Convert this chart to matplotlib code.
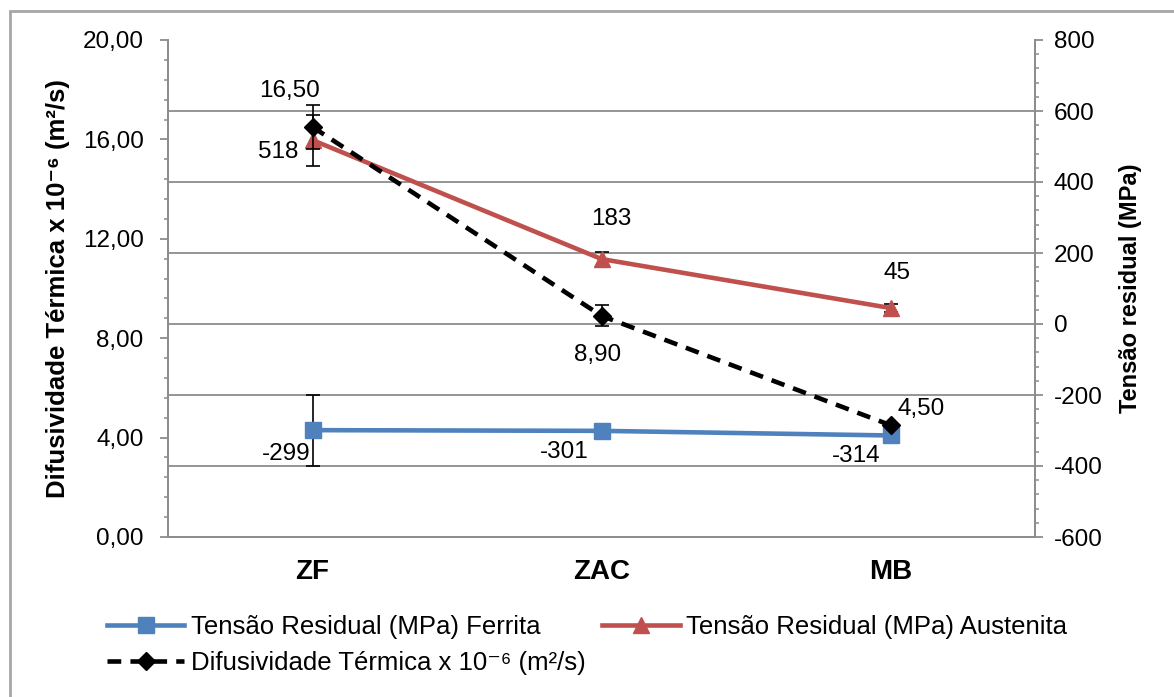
import matplotlib
matplotlib.use('Agg')
import matplotlib.pyplot as plt
from matplotlib.ticker import MultipleLocator, FuncFormatter
from matplotlib.lines import Line2D
from matplotlib.patches import Rectangle

categories = ['ZF', 'ZAC', 'MB']
ferrita = [-299, -301, -314]
ferrita_err = [100, 0, 0]
austenita = [518, 183, 45]
austenita_err = [72, 20, 10]
difusividade = [16.50, 8.90, 4.50]
difusividade_err = [0.9, 0.42, 0.0]

ferrita_labels = ['-299', '-301', '-314']
austenita_labels = ['518', '183', '45']
difusividade_labels = ['16,50', '8,90', '4,50']

plt.rcParams['font.family'] = ['Liberation Sans', 'DejaVu Sans']
plt.rcParams['axes.unicode_minus'] = False

BLUE = '#4F81BD'
RED = '#C0504D'
GRID = '#8C8C8C'
FS = 17.5

fig = plt.figure(figsize=(11.74, 6.97), dpi=100)
fig.patches.append(Rectangle((10 / 1174, -0.1), 1.2, 1 - 11 / 697 + 0.1, transform=fig.transFigure,
                             fill=False, edgecolor='#A6A6A6', linewidth=2.0, zorder=0))

ax = fig.add_axes([168 / 1174, 1 - 537 / 697, (1035 - 168) / 1174, (537 - 40) / 697])
ax2 = ax.twinx()

x = list(range(len(categories)))

# tension series (right axis) on host axes
ax.set_xlim(-0.5, 2.5)
ax.set_ylim(-600, 800)
ax.yaxis.tick_right()
ax.yaxis.set_label_position('right')
ax.yaxis.set_major_locator(MultipleLocator(200))
ax.yaxis.set_minor_locator(MultipleLocator(40))
ax.yaxis.set_major_formatter(FuncFormatter(lambda v, p: f'{int(round(v))}'))
for yv in range(-400, 800, 200):
    ax.axhline(yv, color=GRID, lw=1.3, zorder=0)

ax.errorbar(x, ferrita, yerr=ferrita_err, color=BLUE, lw=3.3, marker='s', ms=11.5,
            ecolor='black', elinewidth=1.2, capsize=5, capthick=1.2, zorder=3)
ax.errorbar(x, austenita, yerr=austenita_err, color=RED, lw=3.3, marker='^', ms=11.5,
            ecolor='black', elinewidth=1.2, capsize=5, capthick=1.2, zorder=3)

# diffusivity (left axis)
ax2.set_ylim(0, 20)
ax2.yaxis.tick_left()
ax2.yaxis.set_label_position('left')
ax2.yaxis.set_major_locator(MultipleLocator(4))
ax2.yaxis.set_minor_locator(MultipleLocator(0.8))
ax2.yaxis.set_major_formatter(FuncFormatter(lambda v, p: f'{v:.2f}'.replace('.', ',')))
ax2.errorbar(x, difusividade, yerr=difusividade_err, color='black', lw=3.3, ls=(0, (3, 2)),
             marker='D', ms=9, ecolor='black', elinewidth=1.2, capsize=5, capthick=1.2, zorder=4)

for a in (ax, ax2):
    a.spines['top'].set_visible(False)
    for s in ('left', 'right', 'bottom'):
        a.spines[s].set_color(GRID)
        a.spines[s].set_linewidth(1.3)
    a.set_facecolor('none')
ax.patch.set_facecolor('white')

ax.tick_params(axis='y', which='major', direction='out', length=5.5, width=1.3, color=GRID,
               labelsize=FS, pad=8)
ax.tick_params(axis='y', which='minor', direction='out', length=3, width=1.1, color=GRID)
ax2.tick_params(axis='y', which='major', direction='out', length=5.5, width=1.3, color=GRID,
                labelsize=FS, pad=12)
ax2.tick_params(axis='y', which='minor', direction='out', length=3, width=1.1, color=GRID)

ax.set_xticks(x)
ax.set_xticklabels(categories, fontsize=20, fontweight='bold')
ax.tick_params(axis='x', length=0, pad=16)
ax2.tick_params(axis='x', length=0)

ax2.set_ylabel('Difusividade Térmica x 10⁻⁶ (m²/s)', fontsize=18.5, fontweight='bold', labelpad=9)
ax.set_ylabel('Tensão residual (MPa)', fontsize=17, fontweight='bold', labelpad=12)

# data labels
dl_kw = dict(textcoords='offset points', ha='center', va='center', fontsize=FS)
off_f = [(-19, -17), (-27, -15), (-25, -15)]
off_a = [(-25, -8.6), (7, 29), (5, 25)]
off_d = [(-16.5, 26), (-3, -28), (22, 12)]
for i in x:
    ax.annotate(ferrita_labels[i], (x[i], ferrita[i]), xytext=off_f[i], **dl_kw)
    ax.annotate(austenita_labels[i], (x[i], austenita[i]), xytext=off_a[i], **dl_kw)
    ax2.annotate(difusividade_labels[i], (x[i], difusividade[i]), xytext=off_d[i], **dl_kw)

handles = [
    Line2D([], [], color=BLUE, lw=3.3, marker='s', ms=11.5),
    Line2D([], [], color='black', lw=3.3, ls=(0, (3, 2)), marker='D', ms=9),
    Line2D([], [], color=RED, lw=3.3, marker='^', ms=11.5),
]
labels = ['Tensão Residual (MPa) Ferrita',
          'Difusividade Térmica x 10⁻⁶ (m²/s)',
          'Tensão Residual (MPa) Austenita']
fig.legend(handles, labels, ncol=2, loc='upper left', bbox_to_anchor=(107 / 1174, 1 - 615 / 697),
           frameon=False, fontsize=18.5, handlelength=3.0, handletextpad=0.27, columnspacing=0.65,
           labelspacing=0.45, borderpad=0, borderaxespad=0)

fig.savefig('out.png', dpi=100)
